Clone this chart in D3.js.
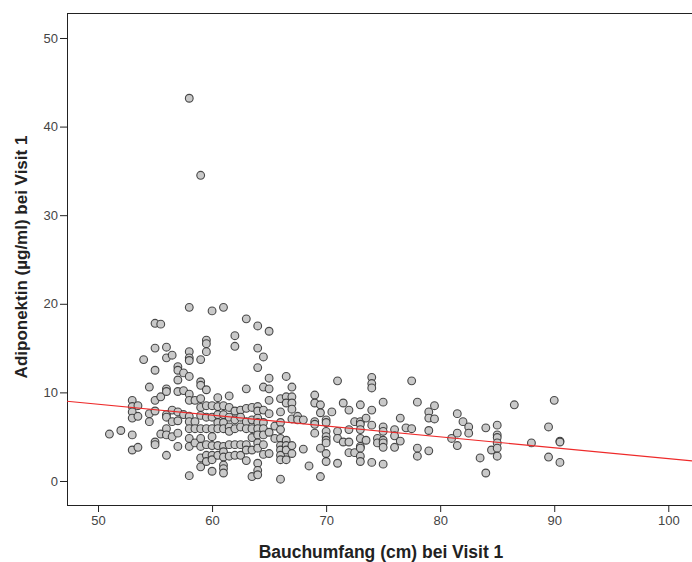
<!DOCTYPE html>
<html>
<head>
<meta charset="utf-8">
<script src="https://cdn.jsdelivr.net/npm/d3@7"></script>
<style>
  body { margin: 0; background: #fff; }
  svg { display: block; font-family: "Liberation Sans", Arial, sans-serif; }
</style>
</head>
<body>
<script>
// waist circumference groups (cm) and the adiponectin readings (µg/ml) at each
const waistCm = [51, 52, 53, 53.5, 54, 54.5, 55, 55.5, 56, 56.5, 57, 57.5, 58, 58.5, 59, 59.5,
  60, 60.5, 61, 61.5, 62, 62.5, 63, 63.5, 64, 64.5, 65, 65.5, 66, 66.5, 67, 67.5, 68, 68.5, 69, 69.5,
  70, 70.5, 71, 71.5, 72, 72.5, 73, 73.5, 74, 74.5, 75, 76, 76.5, 77, 77.5, 78, 79, 79.5,
  81, 81.5, 82, 82.5, 83.5, 84, 84.5, 85, 86.5, 88, 89.5, 90, 90.5]

const adiponectin = [
  [5.3], [5.7], [9.1, 8.4, 7.8, 7.1, 5.2, 3.5], [8.5, 7.3, 3.8], [13.7], [10.6, 7.6, 6.7],
  [17.8, 15.0, 12.5, 9.1, 7.9, 4.4, 4.1], [17.7, 9.5, 5.3],
  [15.1, 13.9, 10.4, 10.1, 7.5, 7.2, 5.9, 5.2, 2.9], [14.2, 8.0, 6.7, 5.0],
  [12.9, 12.5, 11.4, 10.1, 7.8, 6.8, 5.4, 3.9], [12.2, 10.2, 7.5],
  [43.2, 19.6, 14.6, 13.9, 13.6, 11.8, 9.8, 9.1, 7.3, 6.7, 5.9, 4.8, 3.9, 0.6], [9.1, 6.7, 5.9, 4.3],
  [34.5, 13.7, 11.2, 10.8, 9.3, 8.3, 7.4, 5.9, 4.8, 3.9, 2.6, 1.6],
  [15.9, 15.5, 14.6, 10.3, 8.5, 7.2, 5.9, 4.1, 2.9, 2.2],
  [19.2, 8.5, 7.2, 5.9, 5.0, 4.0, 2.9, 2.4, 1.1], [9.4, 8.4, 7.5, 6.6, 5.9, 4.0, 2.9],
  [19.6, 8.5, 7.5, 6.6, 5.9, 3.9, 3.3, 2.7, 1.8, 1.4, 0.9], [9.6, 8.3, 7.2, 6.1, 5.6, 4.1, 2.8],
  [16.4, 15.2, 7.9, 6.9, 5.9, 4.1, 2.9], [8.0, 7.2, 6.1, 4.1, 2.9], [18.3, 10.4, 8.2, 6.7, 5.9, 4.1, 3.5, 2.3],
  [8.3, 6.9, 5.9, 4.9, 3.5, 0.5],
  [17.5, 15.0, 12.8, 8.4, 7.9, 7.1, 6.6, 5.9, 5.2, 4.3, 3.7, 2.0, 1.2, 0.7],
  [14.0, 10.6, 8.0, 6.6, 5.9, 5.2, 4.1, 3.0], [16.9, 11.6, 10.4, 9.1, 7.6, 5.5, 3.1], [6.2, 4.8],
  [9.3, 7.8, 6.6, 5.8, 4.8, 4.0, 3.5, 2.9, 2.4, 0.2], [11.8, 9.5, 8.8, 4.6, 4.0, 3.5, 2.4],
  [10.6, 9.5, 8.8, 8.1, 7.0, 4.0, 3.1], [7.3, 6.9], [6.9, 3.6], [1.7], [9.7, 8.8, 6.7, 6.4, 5.4],
  [8.6, 7.7, 3.7, 0.5], [6.9, 6.6, 5.6, 5.0, 4.6, 4.3, 3.1, 2.2], [7.8], [11.3, 5.6, 4.8, 2.0],
  [8.8, 4.4], [8.0, 5.8, 4.4, 3.2], [6.7, 3.2], [8.6, 6.7, 6.4, 5.8, 4.8, 3.9, 3.7, 2.8, 2.2],
  [7.1, 4.6], [11.7, 11.0, 10.5, 8.0, 6.3, 2.1], [4.8, 4.3], [8.9, 6.1, 5.6, 4.6, 4.3, 3.8, 1.9],
  [5.8, 5.1, 3.8], [7.1, 4.5], [6.0], [11.3, 5.9], [8.9, 3.7, 2.8], [7.8, 7.1, 5.7, 3.4], [8.5, 7.0],
  [4.8], [7.6, 5.4, 4.0], [6.7], [6.1, 5.4], [2.6], [6.0, 0.9], [3.5], [6.3, 5.2, 4.9, 4.3, 3.7, 2.8],
  [8.6], [4.3], [6.1, 2.7], [9.1], [4.5, 4.4, 2.1]
]

const xTicks = [50, 60, 70, 80, 90, 100]
const yTicks = [0, 10, 20, 30, 40, 50]

// linear fit line (total)
const fitIntercept = 14.80
const fitSlope = -0.1227

const points = waistCm.flatMap((w, i) => adiponectin[i].map(a => ({ waist: w, adipo: a })))

const w = 692
const h = 562
const plot = { left: 67, top: 13, right: 700, bottom: 505 }

const svg = d3.select('body')
    .append('svg')
    .attr('width', w)
    .attr('height', h)

const x = d3.scaleLinear()
    .domain([47.28, 102.78])
    .range([plot.left, plot.right])

const y = d3.scaleLinear()
    .domain([-2.71, 52.82])
    .range([plot.bottom, plot.top])

const xAxis = d3.axisBottom(x).tickValues(xTicks).tickSize(7).tickPadding(4)
const yAxis = d3.axisLeft(y).tickValues(yTicks).tickSize(7).tickPadding(2)

const gx = svg.append('g')
    .attr('transform', `translate(0, ${plot.bottom})`)
    .call(xAxis)
const gy = svg.append('g')
    .attr('transform', `translate(${plot.left}, 0)`)
    .call(yAxis)

for (const g of [gx, gy]) {
    g.select('.domain').remove()
    g.selectAll('.tick line').attr('stroke', '#222').attr('stroke-width', 1)
    g.selectAll('.tick text')
        .attr('fill', '#444')
        .style('font-size', '13px')
        .style('font-family', '"Liberation Sans", Arial, sans-serif')
}

// frame
svg.append('rect')
    .attr('x', plot.left + 0.5)
    .attr('y', plot.top + 0.5)
    .attr('width', plot.right - plot.left)
    .attr('height', plot.bottom - plot.top)
    .attr('fill', 'none')
    .attr('stroke', '#222')
    .attr('stroke-width', 1)

// points
svg.append('g')
    .selectAll('circle')
    .data(points)
    .enter()
    .append('circle')
    .attr('cx', d => x(d.waist))
    .attr('cy', d => y(d.adipo))
    .attr('r', 3.9)
    .attr('fill', '#c9c9c9')
    .attr('stroke', '#222')
    .attr('stroke-opacity', 0.8)
    .attr('stroke-width', 1.1)

// fit line
const xd = x.domain()
svg.append('line')
    .attr('x1', x(xd[0]))
    .attr('y1', y(fitIntercept + fitSlope * xd[0]))
    .attr('x2', x(xd[1]))
    .attr('y2', y(fitIntercept + fitSlope * xd[1]))
    .attr('stroke', '#ee2a2a')
    .attr('stroke-width', 1.2)

// titles
svg.append('text')
    .attr('x', 381)
    .attr('y', 558)
    .attr('text-anchor', 'middle')
    .style('font-size', '17.5px')
    .style('font-weight', 'bold')
    .attr('fill', '#222')
    .text('Bauchumfang (cm) bei Visit 1')

svg.append('text')
    .attr('transform', 'translate(27, 257) rotate(-90)')
    .attr('text-anchor', 'middle')
    .style('font-size', '17px')
    .style('font-weight', 'bold')
    .attr('fill', '#222')
    .text('Adiponektin (µg/ml) bei Visit 1')
</script>
</body>
</html>
